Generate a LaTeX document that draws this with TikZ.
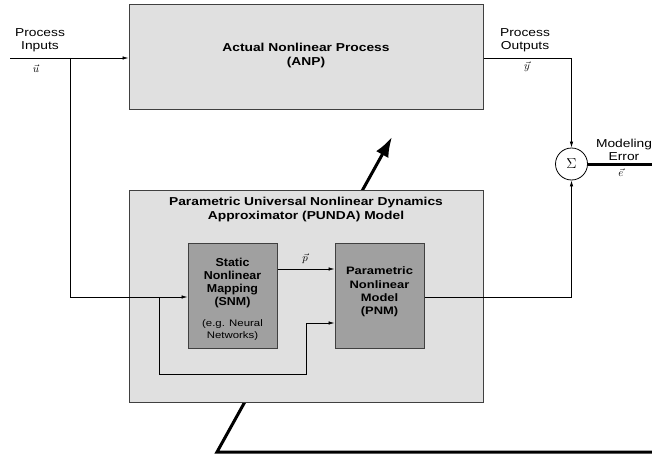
\documentclass[tikz,border=0pt]{standalone}
\usepackage{fontspec}
\setmainfont{Liberation Sans}
\newfontfamily\widefont[FakeStretch=1.2]{Liberation Sans}
\newfontfamily\midfont[FakeStretch=1.08]{Liberation Sans}
\usetikzlibrary{arrows.meta}
\definecolor{lightbox}{HTML}{E0E0E0}
\definecolor{darkbox}{HTML}{A0A0A0}
\definecolor{edge}{HTML}{404040}
\begin{document}
\begin{tikzpicture}[x=1pt,y=-1pt,
  bigbox/.style={draw=edge,line width=1pt,fill=lightbox,inner sep=0pt},
  smallbox/.style={draw=edge,line width=1pt,fill=darkbox,inner sep=0pt},
  wire/.style={draw=black,line width=0.7pt},
  arr/.style={wire,-{Latex[length=6pt,width=3.5pt]}},
  thick/.style={draw=black,line width=3pt},
  lbl/.style={font=\widefont\fontsize{11.5}{13}\selectfont,align=center,inner sep=0pt},
  vlbl/.style={font=\fontsize{11}{13}\selectfont,inner sep=0pt},
  ttl/.style={font=\widefont\fontsize{11.5}{14}\selectfont\bfseries,align=center,inner sep=0pt},
  btxt/.style={font=\midfont\fontsize{11.5}{13.3}\selectfont\bfseries,align=center,inner sep=0pt},
  ptxt/.style={font=\widefont\fontsize{10.8}{13.3}\selectfont\bfseries,align=center,inner sep=0pt}
]
\useasboundingbox (0,0) rectangle (652,457);
% feedback thick line (behind boxes)
\coordinate (fbR) at (652,452);
\coordinate (fbL) at (217,452);
\coordinate (fbT) at (392,137);
\draw[thick,line join=miter,-{Latex[length=20pt,width=14pt]}] (fbR) -- (fbL) -- (fbT);

\node[bigbox,minimum width=354pt,minimum height=105pt] (anp) at (306,57.5) {};
\node[ttl] at (306,55.5) {Actual Nonlinear Process\\(ANP)};

\node[bigbox,minimum width=354pt,minimum height=212pt] (punda) at (306,296) {};
\node[ttl] (pt) at (306,210) {Parametric Universal Nonlinear Dynamics\\Approximator (PUNDA) Model};

\node[smallbox,minimum width=89pt,minimum height=105pt] (snm) at (232.5,295.5) {};
\node[btxt] at (232.5,283) {Static\\Nonlinear\\Mapping\\(SNM)};
\node[lbl,font=\widefont\fontsize{9.5}{11.5}\selectfont] at (232.5,330) {(e.g. Neural\\Networks)};

\node[smallbox,minimum width=89pt,minimum height=105pt] (pnm) at (379.5,295.5) {};
\node[ptxt] at (379.5,292) {Parametric\\Nonlinear\\Model\\(PNM)};

\node[draw=black,line width=0.8pt,circle,minimum size=32pt,inner sep=0pt,fill=white] (sig) at (571.5,164) {\Large$\Sigma$};

% input
\coordinate (in) at (10,58);
\coordinate (br) at (70,58);
\draw[arr] (in) -- (anp.west|-in);
\draw[arr] (br) -- (70,297) -- (snm.west|-0,297);
\coordinate (br2) at (159,297);
\draw[arr] (br2) -- (159,374) -- (306,374) -- (306,323) -- (pnm.west|-0,323);
\draw[arr] (snm.east|-0,269) -- (pnm.west|-0,269);
\draw[arr] (pnm.east|-0,297) -- (571.5,297) -- (sig.south);
\draw[arr] (anp.east|-0,58) -- (571.5,58) -- (sig.north);
\coordinate (eout) at (652,164);
\draw[thick] (sig.east) -- (eout);

% labels
\node[lbl] at (40,40.5) {Process\\Inputs};
\node[vlbl] at (36,69) {$\vec{u}$};
\node[lbl] at (525,40.5) {Process\\Outputs};
\node[vlbl] at (527,67) {$\vec{y}$};
\node[lbl] at (624,150) {Modeling\\Error};
\node[vlbl] at (621,173) {$\vec{e}$};
\node[vlbl] at (305,259) {$\vec{p}$};
\end{tikzpicture}
\end{document}
